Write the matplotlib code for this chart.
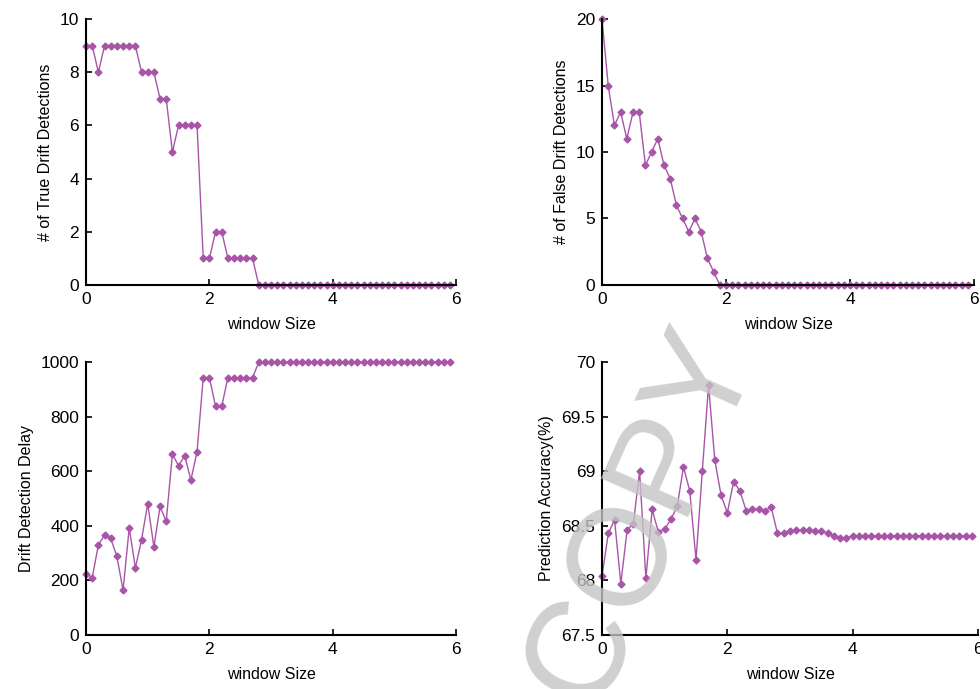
import numpy as np
import matplotlib.pyplot as plt

plt.rcParams['font.family'] = ['Liberation Sans', 'DejaVu Sans']

# window size axis (60 windows)
window = np.arange(60) / 10.0

true_det = [9, 9, 8, 9, 9, 9, 9, 9, 9, 8, 8, 8, 7, 7, 5, 6, 6, 6, 6, 1,
            1, 2, 2, 1, 1, 1, 1, 1] + [0] * 32
false_det = [20, 15, 12, 13, 11, 13, 13, 9, 10, 11, 9, 8, 6, 5, 4, 5, 4, 2, 1] + [0] * 41
delay = [225, 210, 330, 366, 354, 288, 164, 392, 246, 349, 481, 323, 471, 416,
         663, 620, 657, 568, 672, 943, 943, 838, 838, 943, 943, 943, 943, 943] + [1000] * 32
accuracy = [68.04, 68.43, 68.555, 67.97, 68.46, 68.52, 69.0, 68.02, 68.65, 68.44,
            68.47, 68.56, 68.68, 69.04, 68.82, 68.19, 69.0, 69.79, 69.10, 68.78,
            68.62, 68.905, 68.82, 68.64, 68.65, 68.65, 68.64, 68.67, 68.43, 68.43,
            68.45, 68.46, 68.46, 68.46, 68.455, 68.45, 68.43, 68.41, 68.39, 68.39,
            68.41] + [68.41] * 19

color = '#a855a8'

fig = plt.figure(figsize=(9.8, 6.89), dpi=100)

panels = [
    ([0.0878, 0.5864, 0.3776, 0.386], true_det, '# of True Drift Detections', (0, 10), [0, 2, 4, 6, 8, 10]),
    ([0.6143, 0.5864, 0.3796, 0.386], false_det, '# of False Drift Detections', (0, 20), [0, 5, 10, 15, 20]),
    ([0.0878, 0.0784, 0.3776, 0.396], delay, 'Drift Detection Delay', (0, 1000), [0, 200, 400, 600, 800, 1000]),
    ([0.6143, 0.0784, 0.3837, 0.396], accuracy, 'Prediction Accuracy(%)', (67.5, 70), [67.5, 68, 68.5, 69, 69.5, 70]),
]

for rect, vals, ylab, ylim, yticks in panels:
    ax = fig.add_axes(rect)
    ax.plot(window, vals, color=color, lw=1, marker='D', ms=3.5, clip_on=False)
    ax.set_xlim(0, 6)
    ax.set_ylim(*ylim)
    ax.set_xticks([0, 2, 4, 6])
    ax.set_yticks(yticks)
    ax.set_yticklabels([('%g' % t) for t in yticks])
    ax.spines['top'].set_visible(False)
    ax.spines['right'].set_visible(False)
    ax.spines['left'].set_linewidth(1.5)
    ax.spines['bottom'].set_linewidth(1.5)
    ax.tick_params(direction='in', length=4, width=1.2, labelsize=12.5, pad=5)
    ax.set_xlabel('window Size', fontsize=11.5, labelpad=7)
    ax.set_ylabel(ylab, fontsize=11.5, labelpad=5)

# watermark
fig.text(0.655, 0.25, 'COPY', fontsize=100, color='#c4c4c4', alpha=0.8,
         rotation=66, ha='center', va='center', fontweight='light')

fig.savefig('out.png', dpi=100)
